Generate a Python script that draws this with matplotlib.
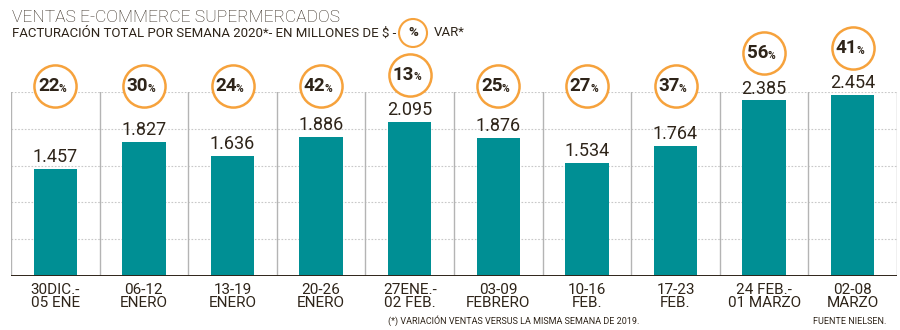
import matplotlib.pyplot as plt
from matplotlib.patches import Ellipse

weeks = ["30DIC.-\n05 ENE", "06-12\nENERO", "13-19\nENERO", "20-26\nENERO",
         "27ENE.-\n02 FEB.", "03-09\nFEBRERO", "10-16\nFEB.", "17-23\nFEB.",
         "24 FEB.-\n01 MARZO", "02-08\nMARZO"]
sales = [1457, 1827, 1636, 1886, 2095, 1876, 1534, 1764, 2385, 2454]
var_pct = [22, 30, 24, 42, 13, 25, 27, 37, 56, 41]
grid_vals = [500, 1000, 1500, 2000, 2500]

TEAL = '#008f94'
ORANGE = '#f6a23c'
DARK = '#2e2419'

plt.rcParams['font.family'] = ['Roboto', 'DejaVu Sans']

fig = plt.figure(figsize=(9, 3.3), dpi=100)
ax = fig.add_axes([11 / 900, 54 / 330, 886 / 900, 184 / 330])
ax.set_xlim(-0.5, len(sales) - 0.5)
ax.set_ylim(0, 2500)
for s in ax.spines.values():
    s.set_visible(False)
ax.set_xticks([])
ax.set_yticks([])

# dotted grid + vertical separators
for g in grid_vals:
    ax.axhline(g, color='#c8c8c8', lw=0.8, ls=(0, (1.5, 1.5)), zorder=0)
for i in range(len(sales) + 1):
    ax.plot([i - 0.5, i - 0.5], [0, 2500], color='#b4b4b4', lw=1, zorder=0)
ax.axhline(0, color=DARK, lw=1.4, zorder=3)

x = list(range(len(sales)))
ax.bar(x, sales, width=0.49, color=TEAL, zorder=2)

for i, v in enumerate(sales):
    ax.text(i, v + 40, f"{v/1000:.3f}", ha='center', va='bottom',
            fontsize=13, color=DARK)
    cy = max(v + 640, 2575)
    ax.scatter([i], [cy], s=920, facecolor='white', edgecolor=ORANGE,
               linewidths=1.8, zorder=4, clip_on=False)
    ax.annotate(str(var_pct[i]), (i, cy), xytext=(3, 0), textcoords='offset points',
                ha='right', va='center', fontsize=13.5, fontweight='bold',
                color=DARK, zorder=5, annotation_clip=False)
    ax.annotate('%', (i, cy), xytext=(2.5, -2), textcoords='offset points',
                ha='left', va='center', fontsize=7.5, fontweight='bold',
                color=DARK, zorder=5, annotation_clip=False)
    ax.text(i, -95, weeks[i], ha='center', va='top', fontsize=11,
            color=DARK, linespacing=0.95)

fig.text(12 / 900, 1 - 17 / 330, "VENTAS E-COMMERCE SUPERMERCADOS",
         fontsize=12.5, fontweight='light', color=DARK, va='center', ha='left')
fig.text(12 / 900, 1 - 33 / 330,
         "FACTURACIÓN TOTAL POR SEMANA 2020*- EN MILLONES DE $ -",
         fontsize=9.5, color=DARK, va='center', ha='left')
fig.patches.append(Ellipse((413 / 900, 1 - 33 / 330), 28 / 900, 28 / 330,
                           transform=fig.transFigure, facecolor='white',
                           edgecolor=ORANGE, lw=1.5))
fig.text(413 / 900, 1 - 33 / 330, "%", fontsize=9.5, fontweight='bold',
         color=DARK, va='center', ha='center')
fig.text(434 / 900, 1 - 33 / 330, "VAR*", fontsize=9.5, color=DARK,
         va='center', ha='left')

fig.text(388 / 900, 1 - 321 / 330,
         "(*) VARIACIÓN VENTAS VERSUS LA MISMA SEMANA DE 2019.",
         fontsize=6.5, color=DARK, va='center', ha='left')
fig.text(886 / 900, 1 - 321 / 330, "FUENTE NIELSEN.", fontsize=6.5,
         color=DARK, va='center', ha='right')

fig.savefig('out.png', dpi=100)
